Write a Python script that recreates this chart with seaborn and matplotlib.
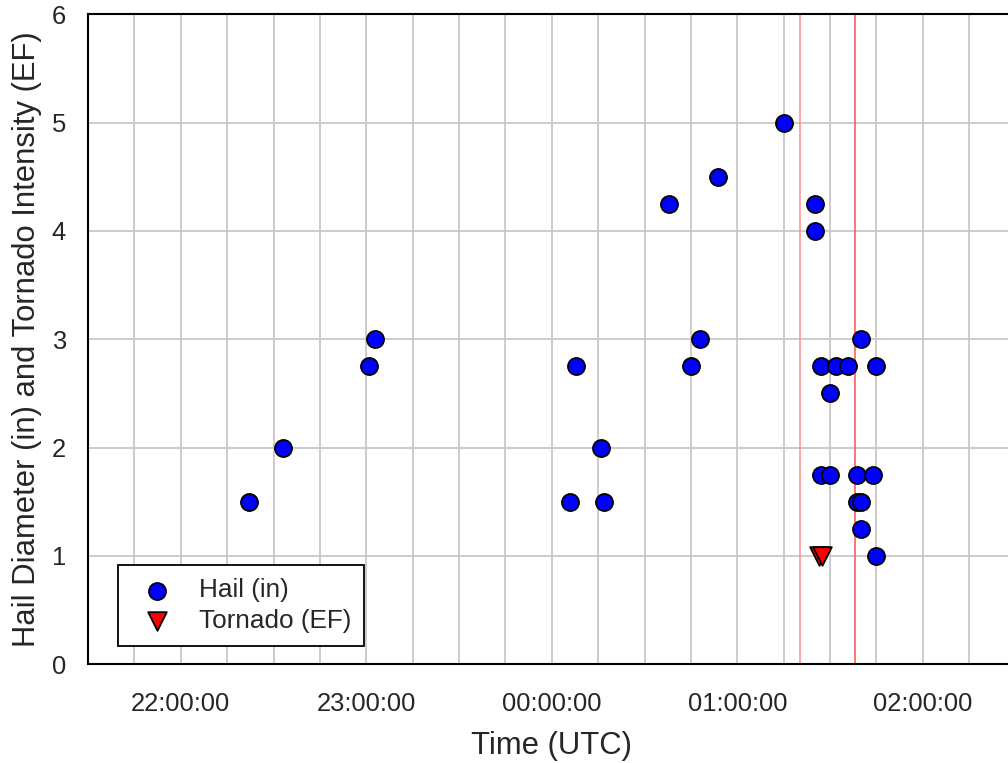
import matplotlib
matplotlib.use("Agg")
import matplotlib.pyplot as plt
import matplotlib.dates as mdates
import seaborn as sns
import pandas as pd

# ---- data ----
hail_times = ["22:22:00", "22:33:00", "23:00:50", "23:02:50",
              "00:05:50", "00:07:50", "00:15:50", "00:16:50",
              "00:37:50", "00:44:55", "00:47:50", "00:53:40",
              "01:15:00", "01:25:00", "01:25:00",
              "01:26:55", "01:31:50", "01:35:50", "01:45:00",
              "01:29:55", "01:26:55", "01:29:55", "01:38:40", "01:43:55",
              "01:38:40", "01:39:55", "01:39:55", "01:39:55", "01:45:00"]
hail_sizes = [1.5, 2.0, 2.75, 3.0,
              1.5, 2.75, 2.0, 1.5,
              4.25, 2.75, 3.0, 4.5,
              5.0, 4.25, 4.0,
              2.75, 2.75, 2.75, 2.75,
              2.5, 1.75, 1.75, 1.75, 1.75,
              1.5, 1.5, 3.0, 1.25, 1.0]
tornado_times = ["01:26:25", "01:27:30"]
tornado_ef = [1.0, 1.0]
red_line_times = ["01:20:25", "01:37:55"]
x_range = ["21:30:00", "02:30:00"]
y_ticks = [0, 1, 2, 3, 4, 5, 6]


def to_dt(s):
    t = pd.Timestamp("2011-05-24 " + s)
    if t.hour < 12:
        t += pd.Timedelta(days=1)
    return t


hail_df = pd.DataFrame({"time": [to_dt(s) for s in hail_times], "value": hail_sizes})
torn_df = pd.DataFrame({"time": [to_dt(s) for s in tornado_times], "value": tornado_ef})

sns.set_theme(style="white")
plt.rcParams["font.family"] = ["Liberation Sans", "DejaVu Sans"]

fig = plt.figure(figsize=(10.08, 7.63), dpi=100)
ax = fig.add_axes([0.0873, 0.1294, 0.9202, 0.8519])

for s, c in zip(red_line_times, ["#ff8c8c", "#ff5050"]):
    ax.axvline(to_dt(s), color=c, lw=1.1, zorder=2)

sns.scatterplot(data=hail_df, x="time", y="value", marker="o", s=150,
                color="#0000ff", edgecolor="black", linewidth=1.3,
                label="Hail (in)", ax=ax, zorder=4)
sns.scatterplot(data=torn_df, x="time", y="value", marker="v", s=180,
                color="#ff0000", edgecolor="black", linewidth=1.3,
                label="Tornado (EF)", ax=ax, zorder=3)

ax.set_xlim(to_dt(x_range[0]), to_dt(x_range[1]))
ax.set_ylim(0, 6)
ax.set_yticks(y_ticks)
ax.xaxis.set_major_locator(mdates.HourLocator())
ax.xaxis.set_major_formatter(mdates.DateFormatter("%H:%M:%S"))
ax.xaxis.set_minor_locator(mdates.MinuteLocator(byminute=[15, 30, 45]))

ax.grid(True, which="major", axis="both", color="#c8c8c8", lw=1.3, zorder=0)
ax.grid(True, which="minor", axis="x", color="#c8c8c8", lw=1.3, zorder=0)
ax.set_axisbelow(True)

for side in ["left", "bottom", "top", "right"]:
    ax.spines[side].set_color("black")
    ax.spines[side].set_linewidth(1.5)

ax.tick_params(axis="both", which="major", direction="out", length=7,
               width=1.3, color="black", labelsize=18.4, pad=9)
ax.tick_params(axis="x", which="minor", direction="out", length=5,
               width=1.3, color="black")
ax.tick_params(axis="x", which="major", pad=13)

ax.set_xlabel("Time (UTC)", fontsize=22.3, labelpad=11)
ax.set_ylabel("Hail Diameter (in) and Tornado Intensity (EF)", fontsize=22.3, labelpad=7)

leg = ax.legend(loc="lower left", bbox_to_anchor=(0.0323, 0.028), borderaxespad=0,
                fontsize=18.8, frameon=True, fancybox=False, framealpha=1,
                edgecolor="black", handletextpad=0.6, borderpad=0.5,
                labelspacing=0.25, handlelength=2.0)
leg.get_frame().set_linewidth(1.3)

fig.savefig("out.png", dpi=100)
